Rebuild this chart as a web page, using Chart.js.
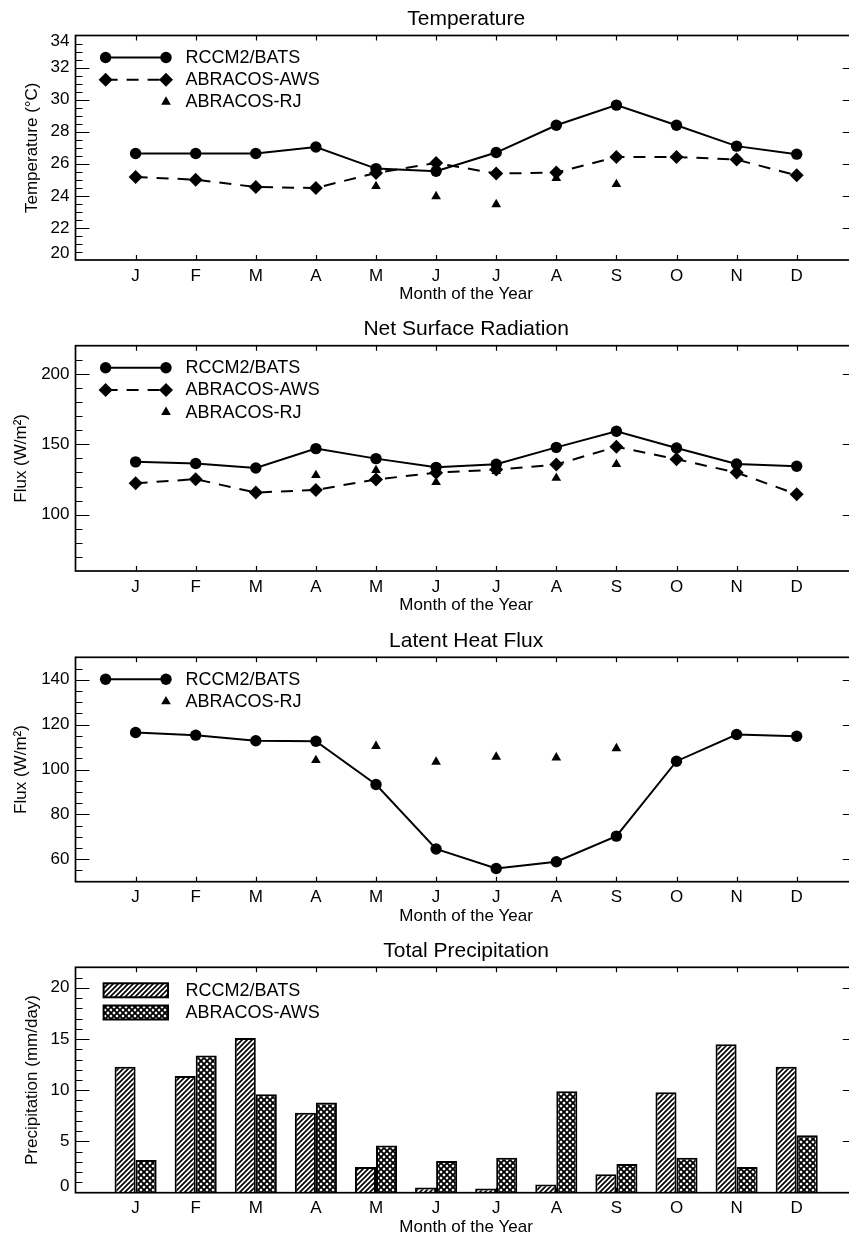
<!DOCTYPE html>
<html>
<head>
<meta charset="utf-8">
<script src="https://cdn.jsdelivr.net/npm/chart.js@4.4.1/dist/chart.umd.min.js"></script>
<style>
html,body{margin:0;padding:0;background:#fff;overflow:hidden;}
#wrap{position:relative;width:849px;height:1234px;overflow:hidden;background:#fff;}
.panel{position:absolute;left:0;}
canvas{display:block;}
</style>
</head>
<body>
<div id="wrap">
  <div class="panel" id="p0"><canvas id="c0"></canvas></div>
  <div class="panel" id="p1"><canvas id="c1"></canvas></div>
  <div class="panel" id="p2"><canvas id="c2"></canvas></div>
  <div class="panel" id="p3"><canvas id="c3"></canvas></div>
</div>
<script>
// ---------------- DATA ----------------
const months = ['J','F','M','A','M','J','J','A','S','O','N','D'];
const seriesNames = ['RCCM2/BATS', 'ABRACOS-AWS', 'ABRACOS-RJ'];

const tempModel = [26.64, 26.64, 26.64, 27.05, 25.70, 25.53, 26.70, 28.40, 29.66, 28.40, 27.10, 26.60];
const tempAWS   = [25.18, 25.01, 24.55, 24.49, 25.43, 26.05, 25.39, 25.45, 26.43, 26.43, 26.26, 25.28];
const tempRJ    = [null, null, null, null, 24.60, 23.97, 23.47, 25.10, 24.72, null, null, null];
const tempTicks = [20, 22, 24, 26, 28, 30, 32, 34];

const radModel = [137.5, 136.3, 133.2, 146.9, 139.8, 133.6, 135.8, 147.8, 159.2, 147.4, 136.0, 134.4];
const radAWS   = [122.3, 125.2, 115.7, 117.6, 125.0, 129.8, 132.0, 135.6, 148.2, 139.4, 129.9, 114.5];
const radRJ    = [null, null, null, 128.0, 131.5, 123.0, 130.9, 126.0, 135.8, null, null, null];
const radTicks = [100, 150, 200];

const latModel = [116.5, 115.3, 112.8, 112.6, 93.3, 64.6, 55.9, 58.9, 70.3, 103.7, 115.6, 114.8];
const latRJ    = [null, null, null, 104.1, 110.4, 103.4, 105.6, 105.3, 109.4, null, null, null];
const latTicks = [60, 80, 100, 120, 140];

const precipModel = [12.3, 11.4, 15.1, 7.8, 2.5, 0.5, 0.4, 0.8, 1.8, 9.8, 14.5, 12.3];
const precipAWS   = [3.2, 13.4, 9.6, 8.8, 4.6, 3.1, 3.4, 9.9, 2.8, 3.4, 2.5, 5.6];
const precipTicks = [0, 5, 10, 15, 20];

// ---------------- STYLE / LAYOUT ----------------
const FONT = '"Liberation Sans", Arial, Helvetica, sans-serif';
Chart.defaults.font.family = FONT;
Chart.defaults.color = '#000';

const CANVAS_W = 860, CANVAS_H = 312;
const AXIS_LEFT = 75.5, AXIS_RIGHT = 856.8;

function hatch(cross) {
  const s = cross ? 6 : 5;
  const c = document.createElement('canvas');
  c.width = s; c.height = s;
  const g = c.getContext('2d');
  g.fillStyle = '#fff'; g.fillRect(0, 0, s, s);
  g.strokeStyle = '#000';
  g.lineWidth = cross ? 1.9 : 1.7;
  g.beginPath();
  g.moveTo(-1, s + 1); g.lineTo(s + 1, -1);
  g.moveTo(-1, 1); g.lineTo(1, -1);
  g.moveTo(s - 1, s + 1); g.lineTo(s + 1, s - 1);
  if (cross) {
    g.moveTo(-1, -1); g.lineTo(s + 1, s + 1);
    g.moveTo(s - 1, -1); g.lineTo(s + 1, 1);
    g.moveTo(-1, s - 1); g.lineTo(1, s + 1);
  }
  g.stroke();
  return g.createPattern(c, 'repeat');
}

function pts(arr) {
  const out = [];
  arr.forEach((v, i) => { if (v !== null) out.push({x: i + 1, y: v}); });
  return out;
}

const modelLine = (arr) => ({
  label: seriesNames[0], data: pts(arr), borderColor: '#000', borderWidth: 2,
  pointStyle: 'circle', pointRadius: 5.7, pointBackgroundColor: '#000', pointBorderWidth: 0, tension: 0
});
const awsLine = (arr) => ({
  label: seriesNames[1], data: pts(arr), borderColor: '#000', borderWidth: 2, borderDash: [12, 9],
  pointStyle: 'rectRot', pointRadius: 7, pointBackgroundColor: '#000', pointBorderWidth: 0, tension: 0
});
const rjPoints = (arr) => ({
  label: seriesNames[2], data: pts(arr), showLine: false, borderColor: '#000', borderWidth: 0,
  pointStyle: 'triangle', pointRadius: 5.6, pointBackgroundColor: '#000', pointBorderWidth: 0
});

const idlFrame = {
  id: 'idlFrame',
  afterDatasetsDraw(chart, args, o) {
    const {ctx, chartArea: a} = chart;
    const x = chart.scales.x, y = chart.scales.y;
    ctx.save();
    ctx.strokeStyle = '#000';
    ctx.setLineDash([]);
    ctx.lineWidth = 1.2;
    ctx.beginPath();
    const k0 = Math.ceil(y.min / o.minor - 1e-9), k1 = Math.floor(y.max / o.minor + 1e-9);
    for (let k = k0; k <= k1; k++) {
      const v = k * o.minor;
      if (Math.abs(v - y.min) < 1e-9 || Math.abs(v - y.max) < 1e-9) continue;
      const r = v / o.major;
      const len = Math.abs(r - Math.round(r)) < 1e-6 ? 14 : 7;
      const py = Math.round(y.getPixelForValue(v)) + 0.5;
      ctx.moveTo(a.left, py); ctx.lineTo(a.left + len, py);
      ctx.moveTo(a.right, py); ctx.lineTo(a.right - len, py);
    }
    x.ticks.forEach(t => {
      const px = Math.round(x.getPixelForValue(t.value)) + 0.5;
      ctx.moveTo(px, a.bottom); ctx.lineTo(px, a.bottom - 5);
      ctx.moveTo(px, a.top); ctx.lineTo(px, a.top + 5);
    });
    ctx.stroke();
    ctx.lineWidth = 1.7;
    ctx.strokeRect(a.left, a.top, a.right - a.left, a.bottom - a.top);
    ctx.restore();
  },
  afterDraw(chart, args, o) {
    const {ctx, chartArea: a} = chart;
    const y = chart.scales.y;
    ctx.save();
    // end-of-axis tick labels, nudged inside the frame
    ctx.font = '17px ' + FONT;
    ctx.fillStyle = '#000';
    ctx.textAlign = 'right';
    ctx.textBaseline = 'middle';
    y.ticks.forEach(t => {
      if (t.value === y.min) ctx.fillText(String(t.value), a.left - 6, y.getPixelForValue(t.value) - 6.5);
      else if (t.value === y.max) ctx.fillText(String(t.value), a.left - 6, y.getPixelForValue(t.value) + 5.5);
    });
    // legend
    const L = o.legend;
    chart.data.datasets.forEach((ds, i) => {
      const yy = a.top + L.y0 + i * L.dy;
      ctx.setLineDash([]);
      if (chart.config.type === 'bar') {
        ctx.fillStyle = ds.backgroundColor;
        ctx.fillRect(L.x1 - 2, yy - 7, L.x2 - L.x1 + 4, 14);
        ctx.strokeStyle = '#000'; ctx.lineWidth = 2;
        ctx.strokeRect(L.x1 - 2, yy - 7, L.x2 - L.x1 + 4, 14);
      } else {
        ctx.fillStyle = '#000'; ctx.strokeStyle = '#000';
        if (ds.showLine !== false) {
          ctx.lineWidth = ds.borderWidth;
          ctx.setLineDash(ds.borderDash || []);
          ctx.beginPath(); ctx.moveTo(L.x1, yy); ctx.lineTo(L.x2, yy); ctx.stroke();
          ctx.setLineDash([]);
          Chart.helpers.drawPoint(ctx, {pointStyle: ds.pointStyle, rotation: 0, radius: ds.pointRadius, borderWidth: 0}, L.x1, yy);
        }
        Chart.helpers.drawPoint(ctx, {pointStyle: ds.pointStyle, rotation: 0, radius: ds.pointRadius, borderWidth: 0}, L.x2, yy);
      }
      ctx.fillStyle = '#000';
      ctx.font = '18px ' + FONT;
      ctx.textAlign = 'left';
      ctx.textBaseline = 'middle';
      ctx.fillText(ds.label, L.tx, yy + 0.5);
    });
    ctx.restore();
  }
};

function makePanel(idx, p) {
  const holder = document.getElementById('p' + idx);
  holder.style.top = p.pageTop + 'px';
  const cv = document.getElementById('c' + idx);
  cv.width = CANVAS_W; cv.height = CANVAS_H;
  const aT = p.areaTop, aH = p.areaH;
  const xH = CANVAS_H - aT - aH;
  return new Chart(cv, {
    type: p.type,
    data: {datasets: p.datasets},
    options: {
      responsive: false, animation: false, events: [],
      layout: {autoPadding: false, padding: {left: 0, top: 0, bottom: 0, right: CANVAS_W - AXIS_RIGHT}},
      datasets: {bar: {categoryPercentage: 0.7, barPercentage: 1.0}},
      plugins: {
        legend: {display: false}, tooltip: {enabled: false},
        title: {display: true, text: p.title, fullSize: false, color: '#000',
                font: {size: 21, weight: 'normal'},
                padding: {top: aT - 16 - 12.6, bottom: 16 - 12.6}},
        idlFrame: {minor: p.minor, major: p.major,
                   legend: {x1: 105.6, x2: 166, tx: 185.5, y0: p.legendY0, dy: 22.2}}
      },
      scales: {
        x: {
          type: 'linear', min: 0, max: 13, offset: false,
          grid: {display: false, drawTicks: false}, border: {display: false},
          afterBuildTicks: s => { s.ticks = months.map((m, i) => ({value: i + 1})); },
          ticks: {autoSkip: false, maxRotation: 0, minRotation: 0, padding: 5.8, font: {size: 17},
                  callback: v => months[v - 1]},
          title: {display: true, text: 'Month of the Year', font: {size: 17},
                  padding: {top: 0, bottom: xH - 34.5 - 10.2}},
          afterFit: s => { s.height = xH; }
        },
        y: {
          type: 'linear', min: p.yMin, max: p.yMax,
          grid: {display: false, drawTicks: false}, border: {display: false},
          afterBuildTicks: s => { s.ticks = p.yTicks.map(v => ({value: v})); },
          ticks: {autoSkip: false, padding: 6, font: {size: 17},
                  callback: function (v) { return (v === this.min || v === this.max) ? '' : String(v); }},
          title: {display: true, text: p.yTitle, font: {size: 17}, padding: {top: p.yTitlePad, bottom: 0}},
          afterFit: s => { s.width = AXIS_LEFT; }
        }
      }
    },
    plugins: [idlFrame]
  });
}

makePanel(0, {
  type: 'line', pageTop: 0, areaTop: 35.5, areaH: 224.5,
  title: 'Temperature', yTitle: 'Temperature (°C)', yTitlePad: 22.5,
  yMin: 20, yMax: 34, yTicks: tempTicks, minor: 0.5, major: 2, legendY0: 22,
  datasets: [modelLine(tempModel), awsLine(tempAWS), rjPoints(tempRJ)]
});
makePanel(1, {
  type: 'line', pageTop: 310, areaTop: 35.7, areaH: 225.3,
  title: 'Net Surface Radiation', yTitle: 'Flux (W/m²)', yTitlePad: 11.5,
  yMin: 60, yMax: 220, yTicks: radTicks, minor: 10, major: 50, legendY0: 22,
  datasets: [modelLine(radModel), awsLine(radAWS), rjPoints(radRJ)]
});
makePanel(2, {
  type: 'line', pageTop: 622, areaTop: 35.3, areaH: 224.4,
  title: 'Latent Heat Flux', yTitle: 'Flux (W/m²)', yTitlePad: 11.5,
  yMin: 50, yMax: 150, yTicks: latTicks, minor: 5, major: 20, legendY0: 22,
  datasets: [modelLine(latModel), rjPoints(latRJ)]
});
makePanel(3, {
  type: 'bar', pageTop: 932, areaTop: 35.3, areaH: 225.4,
  title: 'Total Precipitation', yTitle: 'Precipitation (mm/day)', yTitlePad: 22.5,
  yMin: 0, yMax: 22, yTicks: precipTicks, minor: 1, major: 5, legendY0: 23,
  datasets: [
    {label: seriesNames[0], data: pts(precipModel), backgroundColor: hatch(false), borderColor: '#000', borderWidth: 2},
    {label: seriesNames[1], data: pts(precipAWS), backgroundColor: hatch(true), borderColor: '#000', borderWidth: 2}
  ]
});
</script>
</body>
</html>
